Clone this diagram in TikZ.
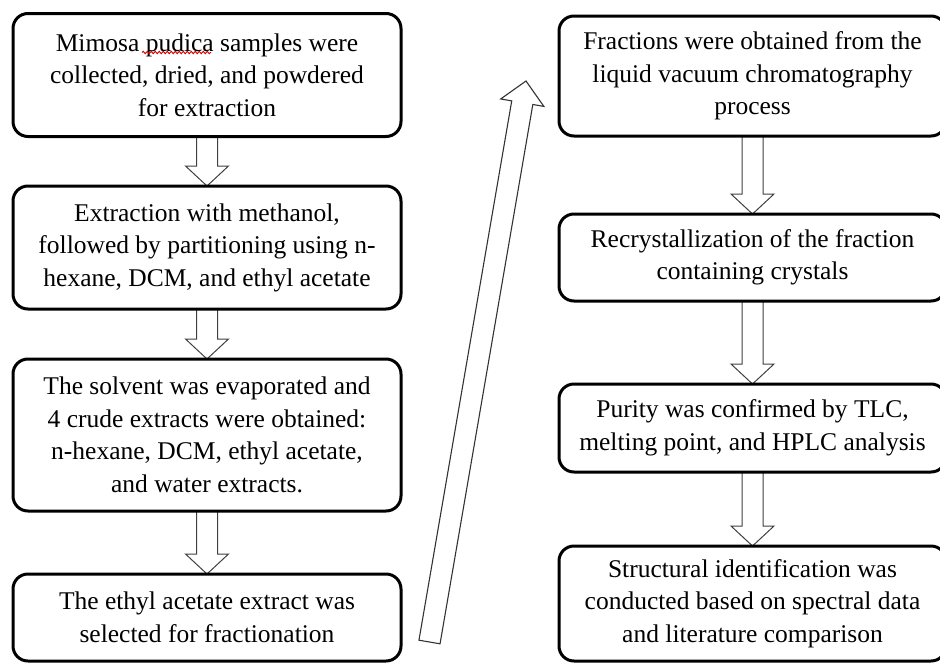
\documentclass[tikz,border=0pt]{standalone}
\usepackage{fontspec}
\setmainfont{Liberation Serif}
\usetikzlibrary{calc,backgrounds,decorations.pathmorphing}
\tikzset{
  stepbox/.style={draw=black, line width=3pt, rounded corners=15pt, outer sep=0pt,
    align=center, inner sep=0pt, font=\fontsize{25.5}{32.5}\selectfont},
  blockarr/.style={draw=black!75, line width=1pt, fill=white, line join=miter},
  bigarrow/.style={draw=black!80, line width=1.1pt, fill=white, line join=miter},
  spell/.style={draw=red!85!black, line width=0.9pt, decorate,
    decoration={snake, amplitude=1.2pt, segment length=4pt}}
}
\newcommand\blockarrow[2]{%
  \coordinate (ba-s) at (#1.south);
  \coordinate (ba-t) at (#2.north);
  \coordinate (ba-h) at ($(ba-t)+(0,-20)$);
  \draw[blockarr] ($(ba-s)+(-10.5,0)$) -- ($(ba-h)+(-10.5,0)$) -- ($(ba-h)+(-21.5,0)$)
    -- (ba-t) -- ($(ba-h)+(21.5,0)$) -- ($(ba-h)+(10.5,0)$) -- ($(ba-s)+(10.5,0)$);
}
\begin{document}
\begin{tikzpicture}[x=1pt,y=-1pt]
\useasboundingbox (0,0) rectangle (940,664);
% left column
\node[stepbox, minimum width=388pt, minimum height=123pt] (l1) at (207,75)
  {Mimosa pudica samples were\\collected, dried, and powdered\\for extraction};
\node[stepbox, minimum width=388pt, minimum height=123pt] (l2) at (207,247.5)
  {Extraction with methanol,\\followed by partitioning using n-\\hexane, DCM, and ethyl acetate};
\node[stepbox, minimum width=388pt, minimum height=152pt] (l3) at (207,435)
  {The solvent was evaporated and\\4 crude extracts were obtained:\\n-hexane, DCM, ethyl acetate,\\and water extracts.};
\node[stepbox, minimum width=388pt, minimum height=87pt] (l4) at (207,617.5)
  {The ethyl acetate extract was\\selected for fractionation};
% right column
\node[stepbox, minimum width=387pt, minimum height=120pt] (r1) at (752.5,76)
  {Fractions were obtained from the\\liquid vacuum chromatography\\process};
\node[stepbox, minimum width=387pt, minimum height=87pt] (r2) at (752.5,257.5)
  {Recrystallization of the fraction\\containing crystals};
\node[stepbox, minimum width=387pt, minimum height=88pt] (r3) at (752.5,428)
  {Purity was confirmed by TLC,\\melting point, and HPLC analysis};
\node[stepbox, minimum width=387pt, minimum height=115pt] (r4) at (752.5,603.5)
  {Structural identification was\\conducted based on spectral data\\and literature comparison};
% spell-check underline
\coordinate (sp1) at (142,52.5);
\coordinate (sp2) at (211,52.5);
\draw[spell] (sp1) -- (sp2);
\begin{pgfonlayer}{background}
\blockarrow{l1}{l2}
\blockarrow{l2}{l3}
\blockarrow{l3}{l4}
\blockarrow{r1}{r2}
\blockarrow{r2}{r3}
\blockarrow{r3}{r4}
\end{pgfonlayer}
% big diagonal arrow
\coordinate (bigbase) at (429.5,642);
\coordinate (bigtip) at (526,81);
\coordinate (bighead) at ($(bigtip)!22pt!(bigbase)$);
\draw[bigarrow] ($(bigbase)!10.7pt!90:(bigtip)$) -- ($(bighead)!10.7pt!90:(bigtip)$)
  -- ($(bighead)!21.9pt!90:(bigtip)$) -- (bigtip) -- ($(bighead)!21.9pt!-90:(bigtip)$)
  -- ($(bighead)!10.7pt!-90:(bigtip)$) -- ($(bigbase)!10.7pt!-90:(bigtip)$) -- cycle;
\end{tikzpicture}
\end{document}
